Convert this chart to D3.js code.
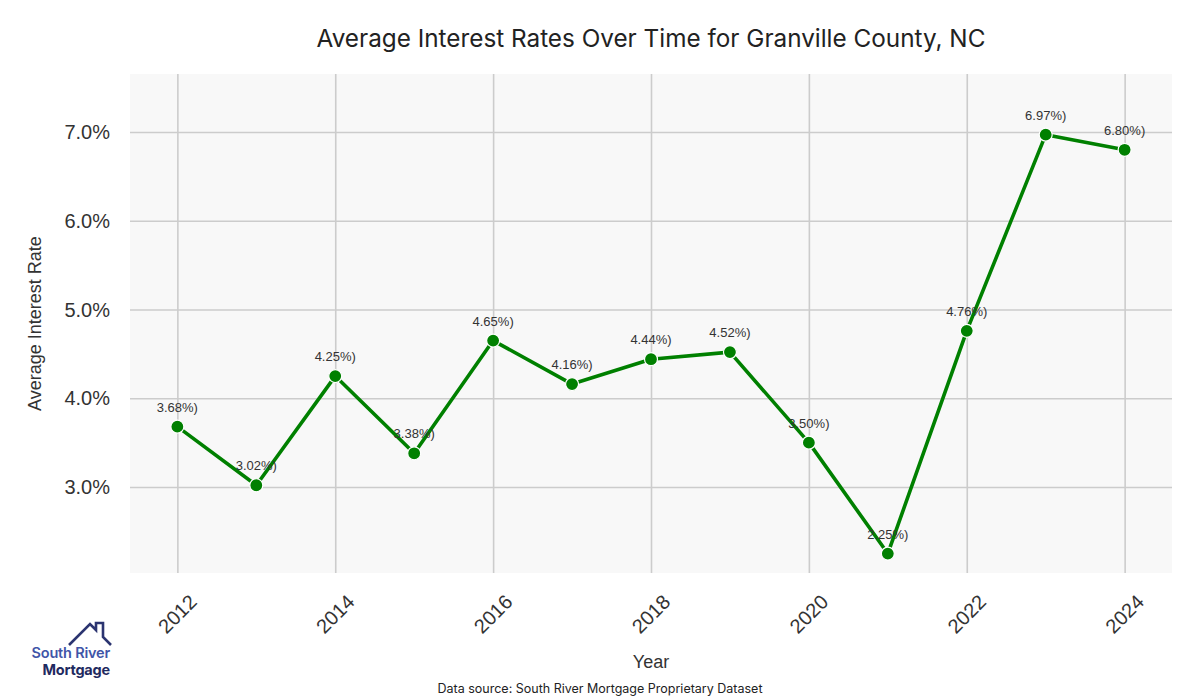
<!DOCTYPE html>
<html><head><meta charset="utf-8">
<script src="https://cdn.jsdelivr.net/npm/d3@7"></script>
<style>body{margin:0;background:#fff}svg{display:block}</style>
</head><body><svg id="c" width="1200" height="700"></svg>
<script>
const years = [2012,2013,2014,2015,2016,2017,2018,2019,2020,2021,2022,2023,2024];
const rates = [3.68,3.02,4.25,3.38,4.65,4.16,4.44,4.52,3.50,2.25,4.76,6.97,6.80];
const xTicks = [2012,2014,2016,2018,2020,2022,2024];
const yTicks = [3,4,5,6,7];
const title = "Average Interest Rates Over Time for Granville County, NC";

const svg = d3.select("#c");
const L=130,R=1172,T=74,B=573;
const x = d3.scaleLinear().domain([2011.4,2024.6]).range([L,R]);
const y = d3.scaleLinear().domain([2.031,7.654]).range([B,T]);
const data = years.map((yr,i)=>({yr, v:rates[i]}));

svg.append("rect").attr("x",L).attr("y",T).attr("width",R-L).attr("height",B-T).attr("fill","#f8f8f8");

const gx = svg.append("g").attr("transform",`translate(0,${B})`)
  .call(d3.axisBottom(x).tickValues(xTicks).tickSize(-(B-T)).tickFormat(""));
gx.select(".domain").remove();
gx.selectAll("line").attr("stroke","#cccccc").attr("stroke-width",1.6);
const gy = svg.append("g").attr("transform",`translate(${L},0)`)
  .call(d3.axisLeft(y).tickValues(yTicks).tickSize(-(R-L)).tickFormat(""));
gy.select(".domain").remove();
gy.selectAll("line").attr("stroke","#cccccc").attr("stroke-width",1.6);

const tickFont = "'Liberation Sans', Arial, sans-serif";
svg.append("g").selectAll("text").data(yTicks).join("text")
  .attr("x",L-20).attr("y",d=>y(d)).attr("dy","0.35em").attr("text-anchor","end")
  .attr("font-family",tickFont).attr("font-size",20).attr("fill","#333")
  .text(d=>d.toFixed(1)+"%");
svg.append("g").selectAll("text").data(xTicks).join("text")
  .attr("transform",d=>`translate(${x(d)},${B+41}) rotate(-45)`)
  .attr("text-anchor","middle").attr("dy","0.35em")
  .attr("font-family",tickFont).attr("font-size",20).attr("fill","#333")
  .text(d=>d);

const line = d3.line().x(d=>x(d.yr)).y(d=>y(d.v));
svg.append("path").datum(data).attr("d",line).attr("fill","none")
  .attr("stroke","#008000").attr("stroke-width",3.6).attr("stroke-linejoin","round");
svg.append("g").selectAll("circle").data(data).join("circle")
  .attr("cx",d=>x(d.yr)).attr("cy",d=>y(d.v)).attr("r",6.5)
  .attr("fill","#008000").attr("stroke","#fff").attr("stroke-width",1.2);
svg.append("g").selectAll("text").data(data).join("text")
  .attr("x",d=>x(d.yr)).attr("y",d=>y(d.v)-15).attr("text-anchor","middle")
  .attr("font-family",tickFont).attr("font-size",13).attr("fill","#333")
  .text(d=>d.v.toFixed(2)+"%)");

const titleFont = "Inter, 'Open Sans', sans-serif";
svg.append("text").attr("x",(L+R)/2).attr("y",47).attr("text-anchor","middle")
  .attr("font-family",titleFont).attr("font-size",24.3).attr("fill","#222").text(title);
svg.append("text").attr("transform",`translate(41,${(T+B)/2}) rotate(-90)`).attr("text-anchor","middle")
  .attr("font-family",tickFont).attr("font-size",18).attr("fill","#333").text("Average Interest Rate");
svg.append("text").attr("x",(L+R)/2).attr("y",668).attr("text-anchor","middle")
  .attr("font-family",tickFont).attr("font-size",18).attr("fill","#333").text("Year");
svg.append("text").attr("x",600).attr("y",693).attr("text-anchor","middle")
  .attr("font-family",titleFont).attr("font-size",12.5).attr("fill","#222")
  .text("Data source: South River Mortgage Proprietary Dataset");

// logo
const lg = svg.append("g");
lg.append("path").attr("d","M69,645 L90,624 L96,630 L96,623 L103,623 L103,637 L111,645")
  .attr("fill","none").attr("stroke","#2b3470").attr("stroke-width",2.6).attr("stroke-linejoin","miter");
lg.append("text").attr("x",110).attr("y",658).attr("text-anchor","end")
  .attr("font-family","Inter, sans-serif").attr("font-weight",600).attr("font-size",14.5)
  .attr("fill","#4055a8").attr("letter-spacing","-0.2").text("South River");
lg.append("text").attr("x",110).attr("y",675).attr("text-anchor","end")
  .attr("font-family","Inter, sans-serif").attr("font-weight",700).attr("font-size",14.5)
  .attr("fill","#1f2a60").attr("letter-spacing","-0.2").text("Mortgage");
</script></body></html>
